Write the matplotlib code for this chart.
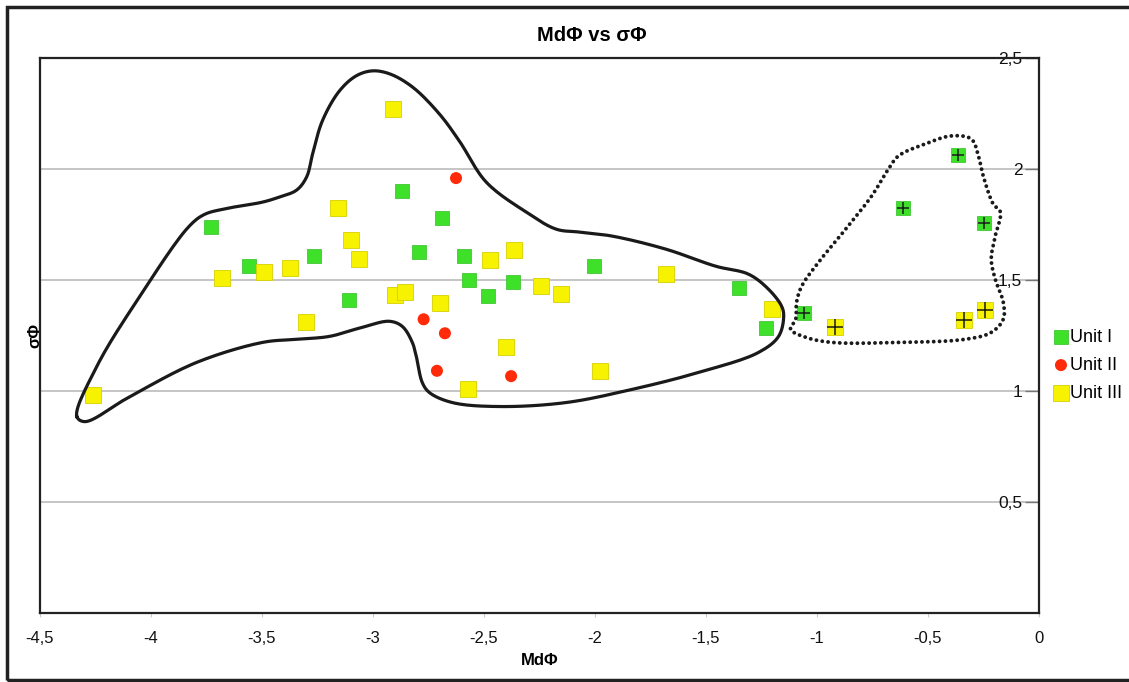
import numpy as np
import matplotlib
matplotlib.use("Agg")
import matplotlib.pyplot as plt
from matplotlib.ticker import FuncFormatter
from matplotlib.patches import Rectangle

plt.rcParams['font.family'] = ['Liberation Sans', 'DejaVu Sans']

# ---- data (MdPhi, sigmaPhi) ----
unit1_x = [-3.728, -3.559, -3.267, -3.109, -2.871, -2.795, -2.689, -2.592,
           -2.567, -2.484, -2.370, -2.006, -1.351, -1.230]
unit1_y = [1.737, 1.561, 1.606, 1.410, 1.902, 1.628, 1.779, 1.609,
           1.498, 1.430, 1.493, 1.565, 1.463, 1.283]
unit1b_x = [-1.059, -0.612, -0.365, -0.249]
unit1b_y = [1.350, 1.823, 2.065, 1.755]

unit2_x = [-2.626, -2.772, -2.676, -2.712, -2.378]
unit2_y = [1.959, 1.323, 1.260, 1.091, 1.067]

unit3_x = [-4.260, -3.679, -3.491, -3.373, -3.301, -3.157, -3.097, -3.061,
           -2.908, -2.902, -2.856, -2.696, -2.473, -2.367, -2.241, -2.155,
           -2.400, -2.574, -1.979, -1.681, -1.203]
unit3_y = [0.984, 1.507, 1.538, 1.556, 1.312, 1.823, 1.678, 1.594,
           2.271, 1.434, 1.446, 1.395, 1.591, 1.633, 1.472, 1.437,
           1.200, 1.007, 1.091, 1.526, 1.368]
unit3b_x = [-0.918, -0.338, -0.244]
unit3b_y = [1.290, 1.318, 1.363]

# hand-drawn group outlines (control points in data units)
solid_x = [-4.334, -4.244, -4.050, -3.830, -3.760, -3.660, -3.497, -3.421,
           -3.344, -3.299, -3.272, -3.228, -3.151, -3.075, -3.003, -2.926,
           -2.823, -2.701, -2.611, -2.490, -2.310, -2.175, -2.072, -1.924,
           -1.681, -1.456, -1.308, -1.218, -1.159, -1.150, -1.173, -1.263,
           -1.532, -1.834, -2.130, -2.432, -2.643, -2.746, -2.778, -2.805,
           -2.823, -2.868, -2.926, -3.048, -3.196, -3.344, -3.497, -3.794,
           -4.095, -4.298]
solid_y = [0.885, 1.111, 1.427, 1.740, 1.795, 1.822, 1.851, 1.874,
           1.905, 1.964, 2.068, 2.217, 2.352, 2.420, 2.442, 2.429,
           2.370, 2.248, 2.126, 1.941, 1.806, 1.729, 1.716, 1.698,
           1.639, 1.562, 1.526, 1.458, 1.381, 1.336, 1.246, 1.174,
           1.084, 1.007, 0.948, 0.930, 0.948, 0.993, 1.038, 1.156,
           1.219, 1.291, 1.314, 1.287, 1.246, 1.233, 1.219, 1.129,
           0.975, 0.862]
dotted_x = [-0.395, -0.305, -0.273, -0.251, -0.206, -0.174, -0.197, -0.215,
            -0.197, -0.161, -0.161, -0.215, -0.332, -0.633, -0.934, -1.051,
            -1.119, -1.096, -1.092, -1.069, -0.993, -0.871, -0.754, -0.678,
            -0.633, -0.512]
dotted_y = [2.149, 2.135, 2.059, 1.968, 1.842, 1.806, 1.698, 1.594,
            1.503, 1.400, 1.323, 1.264, 1.233, 1.219, 1.219, 1.242,
            1.278, 1.323, 1.400, 1.472, 1.580, 1.729, 1.878, 2.000,
            2.059, 2.113]

x_ticks = [-4.5, -4, -3.5, -3, -2.5, -2, -1.5, -1, -0.5, 0]
y_ticks = [0.5, 1, 1.5, 2, 2.5]


def closed_spline(xs, ys, n=14, alpha=0.5):
    """Closed centripetal Catmull-Rom curve through the control points."""
    p = np.column_stack([xs, ys]).astype(float)
    m = len(p)
    out = []
    for i in range(m):
        p0, p1, p2, p3 = p[(i - 1) % m], p[i], p[(i + 1) % m], p[(i + 2) % m]
        t0 = 0.0
        t1 = t0 + np.linalg.norm(p1 - p0) ** alpha
        t2 = t1 + np.linalg.norm(p2 - p1) ** alpha
        t3 = t2 + np.linalg.norm(p3 - p2) ** alpha
        t = np.linspace(t1, t2, n, endpoint=False)[:, None]
        a1 = (t1 - t) / (t1 - t0) * p0 + (t - t0) / (t1 - t0) * p1
        a2 = (t2 - t) / (t2 - t1) * p1 + (t - t1) / (t2 - t1) * p2
        a3 = (t3 - t) / (t3 - t2) * p2 + (t - t2) / (t3 - t2) * p3
        b1 = (t2 - t) / (t2 - t0) * a1 + (t - t0) / (t2 - t0) * a2
        b2 = (t3 - t) / (t3 - t1) * a2 + (t - t1) / (t3 - t1) * a3
        c = (t2 - t) / (t2 - t1) * b1 + (t - t1) / (t2 - t1) * b2
        out.append(c)
    out = np.vstack(out + [p[:1]])
    return out[:, 0], out[:, 1]


fig = plt.figure(figsize=(11.29, 6.82), dpi=100)
ax = fig.add_axes([40 / 1129, 1 - 613 / 682, 999 / 1129, 555 / 682])

green = '#3ee02a'
red = '#ff2a0a'
yellow = '#f7f200'

ax.scatter(unit1_x + unit1b_x, unit1_y + unit1b_y, marker='s', s=88, color=green,
           edgecolors='#2fbf22', linewidths=0.5, label='Unit I', zorder=3)
ax.scatter(unit2_x, unit2_y, marker='o', s=75, color=red, edgecolors='none',
           label='Unit II', zorder=3)
ax.scatter(unit3_x + unit3b_x, unit3_y + unit3b_y, marker='s', s=130, color=yellow,
           edgecolors='#d8d000', linewidths=0.6, label='Unit III', zorder=4)
ax.scatter(unit1b_x, unit1b_y, marker='+', s=80, color='#1a1a1a', linewidths=1.1, zorder=5)
ax.scatter(unit3b_x, unit3b_y, marker='+', s=130, color='#1a1a1a', linewidths=1.1, zorder=5)

sx, sy = closed_spline(solid_x, solid_y)
ax.plot(sx, sy, color='#1a1a1a', lw=2.3, zorder=6, solid_joinstyle='round')
dx, dy = closed_spline(dotted_x, dotted_y)
ax.plot(dx, dy, color='#1a1a1a', lw=2.8, linestyle=(0, (0.01, 1.5)),
        dash_capstyle='round', zorder=6)

ax.set_xlim(-4.5, 0)
ax.set_ylim(0, 2.5)
ax.set_xticks(x_ticks)
ax.set_yticks(y_ticks)
fmt = FuncFormatter(lambda v, p: f"{v:g}".replace('.', ','))
ax.xaxis.set_major_formatter(fmt)
ax.yaxis.set_major_formatter(fmt)

ax.yaxis.set_ticks_position('right')
ax.tick_params(axis='y', direction='in', length=10, width=1, color='#777777',
               pad=-12, labelsize=12.5, labelcolor='#111111')
for lab in ax.get_yticklabels():
    lab.set_horizontalalignment('right')
    lab.set_verticalalignment('center_baseline')
ax.tick_params(axis='x', direction='out', length=3, width=0.8, color='#cccccc',
               pad=10, labelsize=12, labelcolor='#111111')

ax.grid(axis='y', color='#b5b5b5', lw=1.1)
ax.set_axisbelow(True)
for s in ax.spines.values():
    s.set_color('#222222')
    s.set_linewidth(1.6)

ax.set_xlabel('MdΦ', fontsize=12, fontweight='bold', labelpad=5)
ax.set_ylabel('σΦ', fontsize=12, fontweight='bold', labelpad=-2)
ax.yaxis.set_label_position('left')

fig.text(0.524, 0.948, 'MdΦ vs σΦ', ha='center', va='center', fontsize=14.5,
         fontweight='bold')

leg = ax.legend(loc='upper left', bbox_to_anchor=(1056 / 1129, 1 - 329 / 682),
                bbox_transform=fig.transFigure, frameon=False, fontsize=13,
                handlelength=0.55, handletextpad=0.25, labelspacing=0.6,
                borderaxespad=0, borderpad=0)

fig.patches.append(Rectangle((7 / 1129, 2 / 682), 1.2, 673 / 682, transform=fig.transFigure,
                             fill=False, edgecolor='#222222', lw=2.5, figure=fig))

fig.savefig('out.png', dpi=100)
